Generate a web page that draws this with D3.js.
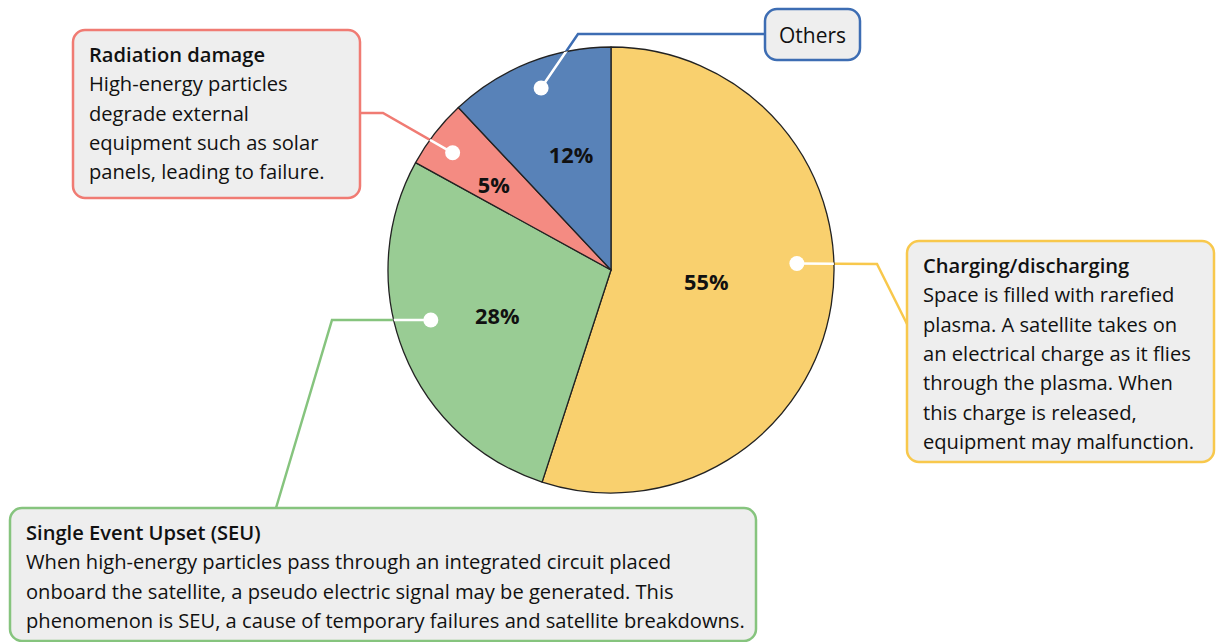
<!DOCTYPE html>
<html><head><meta charset="utf-8">
<script src="https://cdn.jsdelivr.net/npm/d3@7"></script>
<style>html,body{margin:0;padding:0;background:#fff;}svg{display:block;font-family:"Open Sans","Noto Sans",sans-serif;}</style>
</head><body>
<svg id="c" width="1221" height="642"></svg>
<script>
// ---- data ----
const categories = ["Charging/discharging", "Single Event Upset (SEU)", "Radiation damage", "Others"];
const shares = [55, 28, 5, 12];
const percentLabels = ["55%", "28%", "5%", "12%"];
const descriptions = [
  ["Space is filled with rarefied", "plasma. A satellite takes on", "an electrical charge as it flies", "through the plasma. When", "this charge is released,", "equipment may malfunction."],
  ["When high-energy particles pass through an integrated circuit placed", "onboard the satellite, a pseudo electric signal may be generated. This", "phenomenon is SEU, a cause of temporary failures and satellite breakdowns."],
  ["High-energy particles", "degrade external", "equipment such as solar", "panels, leading to failure."],
  []
];

// ---- style / layout ----
const fills = ["#f9d06e", "#99cc94", "#f48b82", "#5882b8"];
const strokes = ["#f8c84c", "#86c47e", "#f07b73", "#3d6db3"];
const cx = 611, cy = 270, R = 223;
const labelR = [0.43, 0.55, 0.65, 0.55];
const labelAng = [96.6, 248, 306, 341];
const dotR = [186, 187, 197, 195];
const dotAng = [88, 254.5, 306.5, 339];
const boxes = [
  {x: 907, y: 241, w: 307, h: 221},
  {x: 10, y: 508, w: 746, h: 133},
  {x: 73, y: 30, w: 287, h: 168},
  {x: 765, y: 9, w: 95, h: 51}
];
const leaders = [
  [[877, 264], [908, 326]],
  [[332, 320], [276, 508]],
  [[383, 113], [360, 113]],
  [[578, 34], [765, 34]]
];

const svg = d3.select("#c");
const rad = d => d * Math.PI / 180;
const polar = (r, a) => [cx + r * Math.sin(rad(a)), cy - r * Math.cos(rad(a))];

// font size calibrated so the widest SEU line matches reference width
const probe = svg.append("text").attr("font-size", 20).text(descriptions[1][2]);
const fs = 20 * 719 / probe.node().getComputedTextLength();
probe.remove();

const pie = d3.pie().sort(null).value(d => d)(shares);
const arc = d3.arc().innerRadius(0).outerRadius(R);

svg.append("defs").append("clipPath").attr("id", "pieclip")
  .append("circle").attr("cx", cx).attr("cy", cy).attr("r", R);

const line = d3.line();
const leaderPts = shares.map((_, i) => [polar(dotR[i], dotAng[i]), ...leaders[i]]);

svg.append("g").selectAll("path").data(leaderPts).join("path")
  .attr("d", d => line(d)).attr("fill", "none")
  .attr("stroke", (d, i) => strokes[i]).attr("stroke-width", 2.5);

const g = svg.append("g").attr("transform", `translate(${cx},${cy})`);
g.selectAll("path").data(pie).join("path")
  .attr("d", arc).attr("fill", (d, i) => fills[i])
  .attr("stroke", "#222").attr("stroke-width", 1.3).attr("stroke-linejoin", "round");

svg.append("g").attr("clip-path", "url(#pieclip)").selectAll("path").data(leaderPts).join("path")
  .attr("d", d => line(d)).attr("fill", "none")
  .attr("stroke", "#fff").attr("stroke-width", 2.5);

svg.append("g").selectAll("circle").data(leaderPts).join("circle")
  .attr("cx", d => d[0][0]).attr("cy", d => d[0][1]).attr("r", 7.5).attr("fill", "#fff");

svg.append("g").selectAll("text").data(percentLabels).join("text")
  .attr("x", (d, i) => polar(labelR[i] * R, labelAng[i])[0])
  .attr("y", (d, i) => polar(labelR[i] * R, labelAng[i])[1])
  .attr("text-anchor", "middle").attr("dominant-baseline", "central")
  .attr("font-size", fs * 1.08).attr("font-weight", "bold").attr("fill", "#111")
  .text(d => d);

const bg = svg.append("g").selectAll("g").data(boxes).join("g");
bg.append("rect")
  .attr("x", d => d.x).attr("y", d => d.y).attr("width", d => d.w).attr("height", d => d.h)
  .attr("rx", 12).attr("fill", "#eeeeee")
  .attr("stroke", (d, i) => strokes[i]).attr("stroke-width", 2.5);

const lh = 29.3;
bg.each(function(b, i) {
  const sel = d3.select(this);
  if (descriptions[i].length === 0) {
    sel.append("text").attr("x", b.x + b.w / 2).attr("y", b.y + b.h / 2)
      .attr("text-anchor", "middle").attr("dominant-baseline", "central")
      .attr("font-size", fs * 1.04).attr("fill", "#111").text(categories[i]);
    return;
  }
  const t = sel.append("text").attr("font-size", fs).attr("fill", "#111");
  const x0 = b.x + 16, y0 = b.y + 32;
  t.append("tspan").attr("x", x0).attr("y", y0).attr("font-weight", 600).text(categories[i]);
  descriptions[i].forEach((s, k) => {
    t.append("tspan").attr("x", x0).attr("y", y0 + lh * (k + 1)).text(s);
  });
});
</script>
</body></html>
